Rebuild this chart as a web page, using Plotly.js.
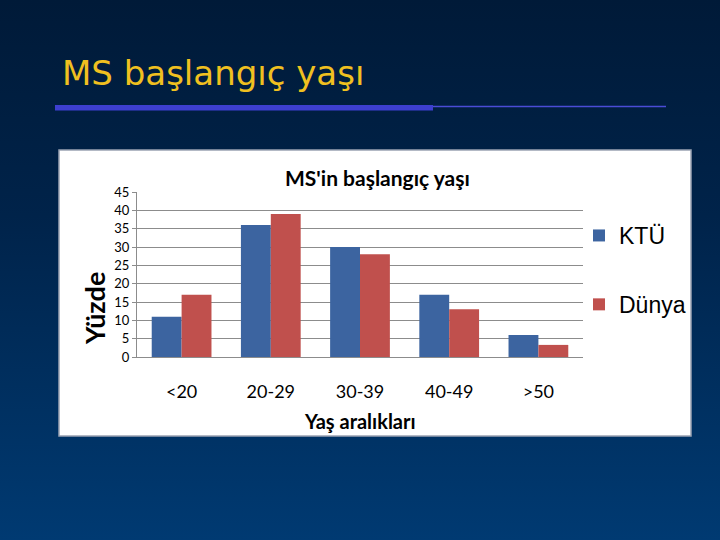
<!DOCTYPE html>
<html>
<head>
<meta charset="utf-8">
<script src="https://cdn.plot.ly/plotly-3.0.1.min.js"></script>
<style>
  html, body { margin: 0; padding: 0; width: 720px; height: 540px; overflow: hidden;
    background: linear-gradient(to bottom, #001a38 0%, #00234a 40%, #003a72 100%); }
  #chart { width: 720px; height: 540px; }
</style>
</head>
<body>
<div id="chart"></div>
<script>
// ---- data ----
const categories = ["<20", "20-29", "30-39", "40-49", ">50"];
const seriesNames = ["KTÜ", "Dünya"];
const ktuValues = [11, 36, 30, 17, 6];
const dunyaValues = [17, 39, 28, 13, 3.3];
const yTickValues = [0, 5, 10, 15, 20, 25, 30, 35, 40, 45];
const slideTitle = "MS başlangıç yaşı";
const chartTitle = "MS'in başlangıç yaşı";
const yTitle = "Yüzde";
const xTitle = "Yaş aralıkları";

// ---- layout helpers (pixel -> paper) ----
const L = 137, R = 583, T = 192, B = 357, W = 720, H = 540;
const px = x => (x - L) / (R - L);
const py = y => (B - y) / (B - T);

const traces = [
  { type: "bar", name: seriesNames[0], x: categories, y: ktuValues,
    marker: { color: "#3c64a0" }, legendgroup: "a", hoverinfo: "none" },
  { type: "bar", name: seriesNames[1], x: categories, y: dunyaValues,
    marker: { color: "#c0504d" }, legendgroup: "b", hoverinfo: "none" }
];

const layout = {
  width: W, height: H,
  margin: { l: L, r: W - R, t: T, b: H - B, pad: 0 },
  paper_bgcolor: "rgba(0,0,0,0)",
  plot_bgcolor: "#ffffff",
  barmode: "group",
  bargap: 0.33,
  bargroupgap: 0,
  showlegend: true,
  legend: {
    x: px(579), xanchor: "left", y: py(214), yanchor: "top",
    bgcolor: "rgba(0,0,0,0)",
    font: { family: "Liberation Sans, Arial, sans-serif", size: 23, color: "#000" },
    tracegroupgap: 36, traceorder: "grouped"
  },
  xaxis: {
    type: "category",
    showgrid: false,
    showline: true, linecolor: "#8c8c8c", linewidth: 1,
    ticks: "", ticklabelstandoff: 18,
    tickfont: { family: "Lato, sans-serif", size: 18, color: "#000" },
    fixedrange: true
  },
  yaxis: {
    range: [0, 45],
    tickvals: yTickValues,
    showgrid: true, gridcolor: "#8c8c8c", gridwidth: 1,
    showline: true, linecolor: "#8c8c8c", linewidth: 1,
    ticks: "outside", ticklen: 4, tickcolor: "#8c8c8c",
    tickfont: { family: "Lato, sans-serif", size: 13, color: "#000" },
    zeroline: false, fixedrange: true
  },
  shapes: [
    { type: "rect", xref: "paper", yref: "paper", layer: "below",
      x0: px(59), x1: px(691), y0: py(436), y1: py(150),
      fillcolor: "#ffffff", line: { color: "#9aa3b3", width: 1.5 } },
    { type: "rect", xref: "paper", yref: "paper",
      x0: px(55), x1: px(433), y0: py(110.5), y1: py(105),
      fillcolor: "#3d3fd0", line: { width: 0 } },
    { type: "line", xref: "paper", yref: "paper",
      x0: px(433), x1: px(666), y0: py(106.5), y1: py(106.5),
      line: { color: "#4a4cd6", width: 1.5 } }
  ],
  annotations: [
    { text: slideTitle, xref: "paper", yref: "paper", x: px(60), y: py(73),
      xanchor: "left", yanchor: "middle", showarrow: false,
      font: { family: "DejaVu Sans, sans-serif", size: 34, color: "#f0c020" } },
    { text: "<b>" + chartTitle + "</b>", xref: "paper", yref: "paper", x: px(377), y: py(177),
      xanchor: "center", yanchor: "middle", showarrow: false,
      font: { family: "Lato, sans-serif", size: 21, color: "#000" } },
    { text: "<b>" + yTitle + "</b>", xref: "paper", yref: "paper", x: px(94), y: py(309),
      xanchor: "center", yanchor: "middle", showarrow: false, textangle: -90,
      font: { family: "Lato, sans-serif", size: 27, color: "#000" } },
    { text: "<b>" + xTitle + "</b>", xref: "paper", yref: "paper", x: px(360), y: py(421),
      xanchor: "center", yanchor: "middle", showarrow: false,
      font: { family: "Lato, sans-serif", size: 20, color: "#000" } }
  ]
};

Plotly.newPlot("chart", traces, layout, { displayModeBar: false, staticPlot: true });
</script>
</body>
</html>
